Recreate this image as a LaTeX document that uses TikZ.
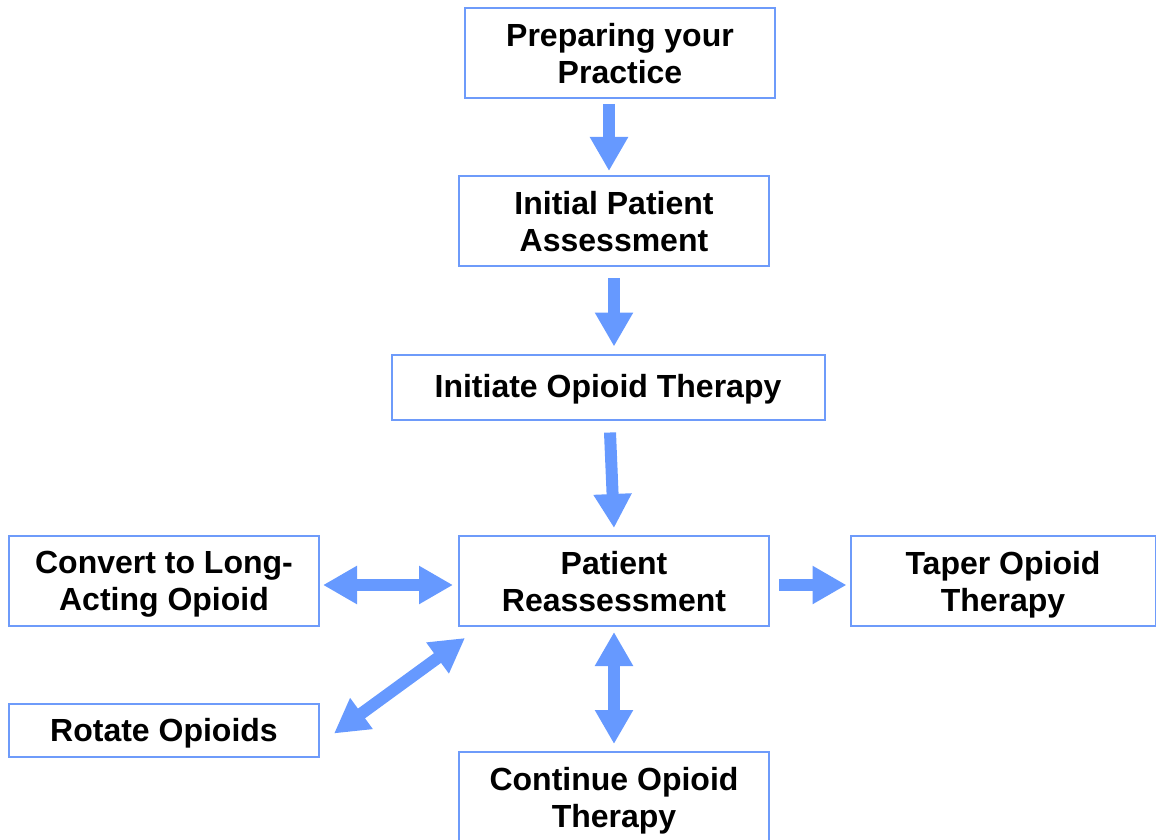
\documentclass[tikz,border=0pt]{standalone}
\usepackage{fontspec}
\setmainfont{Liberation Sans}
\usetikzlibrary{arrows.meta}
\definecolor{boxblue}{RGB}{110,155,250}
\definecolor{arrowblue}{RGB}{102,153,255}

\begin{document}
\begin{tikzpicture}[x=1pt,y=-1pt,
    stepbox/.style={draw=boxblue,line width=2pt,fill=white,align=center,inner sep=0pt,text depth=0pt,
      minimum width=310pt,minimum height=90pt,font=\fontsize{32}{37}\selectfont\bfseries},
    bigarrow/.style={draw=arrowblue,line width=12pt,-{Triangle[width=36pt,length=34pt]}},
    bigdouble/.style={draw=arrowblue,line width=12pt,{Triangle[width=36pt,length=34pt]}-{Triangle[width=36pt,length=34pt]}}]
      \useasboundingbox (0,0) rectangle (1156,840);

      % Boxes down the middle
      \node[stepbox] (prep) at (620,53) {Preparing your\\Practice};
      \node[stepbox] (init) at (614,221) {Initial Patient\\Assessment};
      \node[stepbox,minimum width=433pt,minimum height=65pt,text depth=3pt] (initiate) at (608,387) {Initiate Opioid Therapy};
      \node[stepbox] (reass) at (614,581) {Patient\\Reassessment};
      \node[stepbox] (cont) at (614,797) {Continue Opioid\\Therapy};

      % Boxes at the sides
      \node[stepbox] (convert) at (164,581) {Convert to Long-\\Acting Opioid};
      \node[stepbox,minimum width=305pt] (taper) at (1003,581) {Taper Opioid\\Therapy};
      \node[stepbox,minimum height=53pt] (rotate) at (164,730) {Rotate Opioids};

      % Arrows
      \draw[bigarrow] ([xshift=-11pt,yshift=-5pt]prep.south) -- ([xshift=-5pt,yshift=4pt]init.north);
      \draw[bigarrow] ([yshift=-11pt]init.south) -- ([xshift=6pt,yshift=7pt]initiate.north);
      \draw[bigarrow] ([xshift=2pt,yshift=-12pt]initiate.south) -- ([yshift=7pt]reass.north);
      \draw[bigdouble] ([xshift=3pt,yshift=-4pt]convert.east) -- ([xshift=-5pt,yshift=-4pt]reass.west);
      \draw[bigarrow] ([xshift=9pt,yshift=-4pt]reass.east) -- ([xshift=-3pt,yshift=-4pt]taper.west);
      \draw[bigdouble] ([yshift=-5pt]reass.south) -- ([yshift=7pt]cont.north);
      \draw[bigdouble] ([xshift=7pt,yshift=-11pt]reass.south west) -- ([xshift=14pt,yshift=-31pt]rotate.north east);
    \end{tikzpicture}
\end{document}
